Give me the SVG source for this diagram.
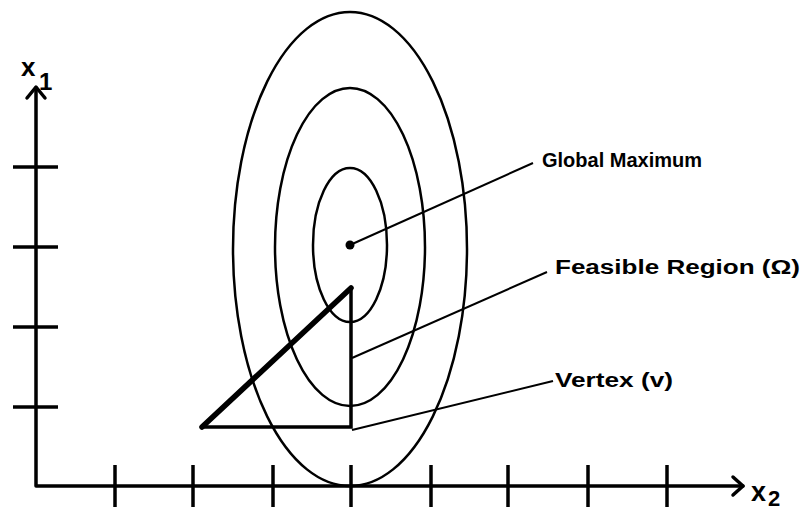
<svg xmlns="http://www.w3.org/2000/svg" width="809" height="512" viewBox="0 0 809 512">
<style>
.ax{stroke:#000;stroke-width:3.5;fill:none;stroke-linecap:round;stroke-linejoin:round}
.tk{stroke:#000;stroke-width:3.5;fill:none}
.el{stroke:#000;stroke-width:2.5;fill:none}
.ld{stroke:#000;stroke-width:2;fill:none}
.lb{font-family:"Liberation Sans",Arial,sans-serif;font-weight:bold;font-size:20px;fill:#000}
.ax-lbl{font-family:"Liberation Sans",Arial,sans-serif;font-weight:bold;fill:#000}
</style>
<rect width="809" height="512" fill="#fff"/>
<g id="axes">
<polyline class="ax" points="36,88 36,486 743,486"/>
<polyline class="ax" points="27,98 36,87 45,98"/>
<polyline class="ax" points="733,477 743,486 733,495"/>
<g id="yticks">
<line class="tk" x1="13" y1="167" x2="58" y2="167"/>
<line class="tk" x1="13" y1="247" x2="58" y2="247"/>
<line class="tk" x1="13" y1="327" x2="58" y2="327"/>
<line class="tk" x1="13" y1="407" x2="58" y2="407"/>
</g>
<g id="xticks">
<line class="tk" x1="115" y1="465" x2="115" y2="507"/>
<line class="tk" x1="193" y1="465" x2="193" y2="507"/>
<line class="tk" x1="273" y1="465" x2="273" y2="507"/>
<line class="tk" x1="351" y1="465" x2="351" y2="507"/>
<line class="tk" x1="431" y1="465" x2="431" y2="507"/>
<line class="tk" x1="508" y1="465" x2="508" y2="507"/>
<line class="tk" x1="588" y1="465" x2="588" y2="507"/>
<line class="tk" x1="667" y1="465" x2="667" y2="507"/>
</g>
<text class="ax-lbl" x="21" y="76" font-size="26">x</text>
<text class="ax-lbl" x="39" y="90" font-size="24">1</text>
<text class="ax-lbl" x="751" y="501" font-size="27">x</text>
<text class="ax-lbl" x="768" y="506" font-size="22">2</text>
</g>
<g id="contours">
<ellipse class="el" cx="350" cy="249" rx="117" ry="237"/>
<ellipse class="el" cx="350" cy="247" rx="75" ry="159"/>
<ellipse class="el" cx="350" cy="245" rx="37" ry="77"/>
</g>
<g id="global-maximum">
<circle cx="350" cy="245" r="4.5" fill="#000"/>
</g>
<g id="feasible-region">
<line x1="202" y1="427" x2="351" y2="288" stroke="#000" stroke-width="5.5" stroke-linecap="round"/>
<polyline points="202,427 351,427 351,288" fill="none" stroke="#000" stroke-width="3.5" stroke-linejoin="miter"/>
</g>
<g id="connectors">
<line class="ld" x1="350" y1="245" x2="533" y2="163"/>
<line class="ld" x1="352" y1="358" x2="547" y2="272"/>
<line class="ld" x1="352" y1="430" x2="553" y2="381"/>
</g>
<g id="labels">
<text class="lb" x="542" y="167">Global Maximum</text>
<text class="lb" x="555" y="274" textLength="245" lengthAdjust="spacingAndGlyphs">Feasible Region (Ω)</text>
<text class="lb" x="555" y="387" textLength="118" lengthAdjust="spacingAndGlyphs">Vertex (v)</text>
</g>
</svg>
